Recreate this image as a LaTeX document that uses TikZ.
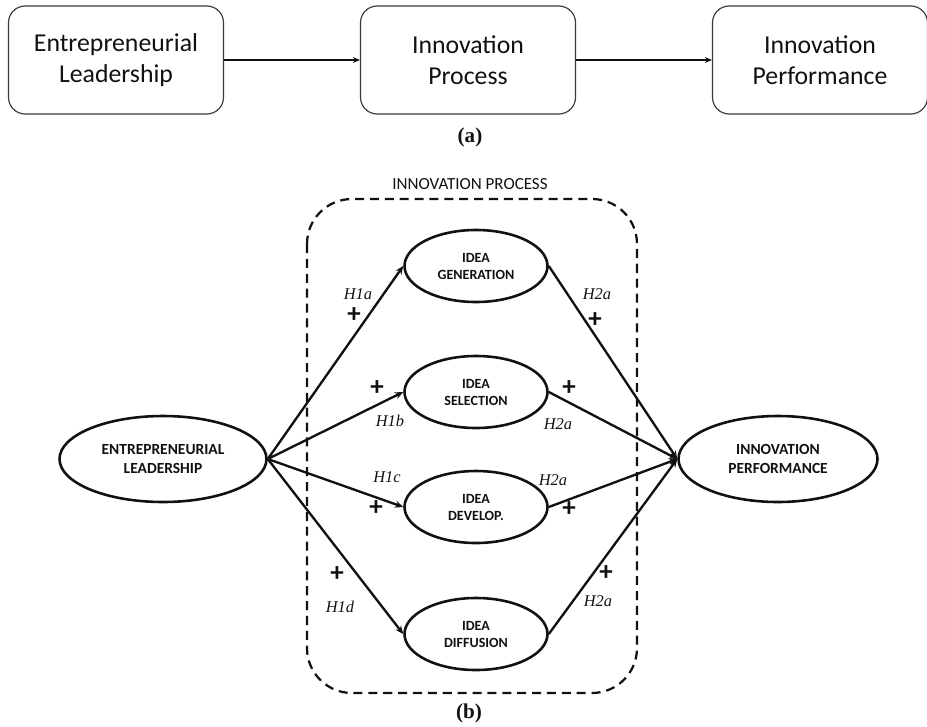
\documentclass[tikz,border=0pt]{standalone}
\usepackage{fontspec}
\setmainfont{Carlito}
\newfontfamily\hypfont{Liberation Serif}
\definecolor{mInk}{HTML}{111111}
\definecolor{mGrey}{HTML}{3A3A3A}
\usetikzlibrary{positioning,arrows.meta,shapes.geometric}
\tikzset{
 topbox/.style={draw=mGrey, line width=1pt, rounded corners=0.5cm, minimum width=215*0.03cm, minimum height=108*0.03cm, align=center, font=\fontsize{22}{26.5}\selectfont, text=mInk},
 toparrow/.style={-{Stealth[length=6pt,width=5pt]}, draw=mInk, line width=1pt},
 bigoval/.style={ellipse, draw=mInk, line width=2.2pt, inner sep=0pt, minimum height=86*0.03cm, align=center, font=\fontsize{13.2}{16.2}\selectfont\bfseries, text=mInk},
 ideaoval/.style={ellipse, draw=mInk, line width=2.2pt, inner sep=0pt, minimum width=143*0.03cm, minimum height=72*0.03cm, align=center, font=\fontsize{12}{14.5}\selectfont\bfseries, text=mInk},
 link/.style={-{Stealth[length=7pt,width=6pt]}, draw=mInk, line width=2pt},
 hyp/.style={font=\hypfont\itshape\fontsize{14}{16}\selectfont, text=mInk, inner sep=0pt},
 sign/.style={font=\fontsize{23}{23}\selectfont\bfseries, text=mInk, inner sep=0pt},
 caption/.style={font=\hypfont\bfseries\fontsize{18}{21}\selectfont, text=mInk, inner sep=0pt}
}
\begin{document}
\begin{tikzpicture}[x=0.03cm, y=-0.03cm]
\useasboundingbox (0,0) rectangle (927,726);
% (a) simple chain
\node[topbox] (a1) at (116,60) {Entrepreneurial\\Leadership};
\node[topbox] (a2) at (468,60) {Innovation\\Process};
\node[topbox] (a3) at (820,60) {Innovation\\Performance};
\draw[toparrow] (a1.east) -- (a2.west);
\draw[toparrow] (a2.east) -- (a3.west);
\node[caption] (capa) at (470,137) {(a)};

% (b) research model
\node[font=\fontsize{14.5}{17}\selectfont, text=mInk, inner sep=0pt] (iptitle) at (470,184) {INNOVATION PROCESS};
\draw[mInk, line width=1.9pt, dash pattern=on 7.7pt off 5pt, rounded corners=1.35cm] (307,199) rectangle (637,693);

\node[bigoval, minimum width=207*0.03cm] (el) at (163,459) {ENTREPRENEURIAL\\LEADERSHIP};
\node[bigoval, minimum width=199*0.03cm] (ip) at (778,459) {INNOVATION\\PERFORMANCE};
\node[ideaoval] (gen) at (476,266) {IDEA\\GENERATION};
\node[ideaoval] (sel) at (476,392) {IDEA\\SELECTION};
\node[ideaoval] (dev) at (476,507) {IDEA\\DEVELOP.};
\node[ideaoval] (dif) at (476,634) {IDEA\\DIFFUSION};

\foreach \s in {gen,sel,dev,dif} {
 \draw[link] (el.east) -- (\s.west);
 \draw[link] (\s.east) -- (ip.west);
}

% hypotheses
\node[hyp] (h1a) at (358,294) {H1a};
\node[sign] (p1a) at (354,315) {+};
\node[hyp] (h2a1) at (597,294) {H2a};
\node[sign] (p2a1) at (595,320) {+};
\node[sign] (p1b) at (377,388) {+};
\node[hyp] (h1b) at (390,421) {H1b};
\node[sign] (p2a2) at (569,388) {+};
\node[hyp] (h2a2) at (558,424) {H2a};
\node[hyp] (h1c) at (387,477) {H1c};
\node[sign] (p1c) at (376,508) {+};
\node[hyp] (h2a3) at (553,480) {H2a};
\node[sign] (p2a3) at (569,509) {+};
\node[sign] (p1d) at (337,574) {+};
\node[hyp] (h1d) at (340,607) {H1d};
\node[sign] (p2a4) at (606,573) {+};
\node[hyp] (h2a4) at (598,601) {H2a};

\node[caption] (capb) at (469,713) {(b)};
\end{tikzpicture}
\end{document}
